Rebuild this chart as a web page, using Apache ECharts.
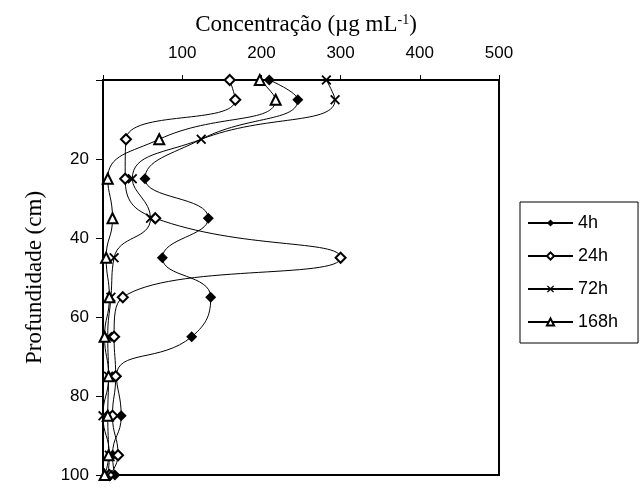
<!DOCTYPE html>
<html><head><meta charset="utf-8">
<script src="https://cdn.jsdelivr.net/npm/echarts@6/dist/echarts.min.js"></script>
<style>html,body{margin:0;padding:0;background:#fff}#c{width:642px;height:490px}</style>
</head><body><div id="c"></div>
<script>
const depths = [0, 5, 15, 25, 35, 45, 55, 65, 75, 85, 95, 100];
const seriesNames = ['4h', '24h', '72h', '168h'];
const v4h   = [210, 246, 124, 53, 133, 75, 136, 112, 17, 23, 12, 15];
const v24h  = [160, 167, 29, 28, 66, 300, 25, 14, 16, 12, 19, 8];
const v72h  = [282, 293, 124, 37, 60, 14, 10, 6, 7, 0, 8, 6];
const v168h = [198, 218, 71, 6, 12, 4, 8, 2, 7, 6, 7, 2];
const xTicks = [100, 200, 300, 400, 500];
const yTicks = [20, 40, 60, 80, 100];

const X_PATH = 'path://M0,1.3 L1.3,0 L5,3.7 L8.7,0 L10,1.3 L6.3,5 L10,8.7 L8.7,10 L5,6.3 L1.3,10 L0,8.7 L3.7,5 Z';
const styles = [
  {symbol: 'diamond', symbolSize: 11, itemStyle: {color: '#000', borderColor: '#000', borderWidth: 0}},
  {symbol: 'diamond', symbolSize: 10, itemStyle: {color: '#fff', borderColor: '#000', borderWidth: 2}},
  {symbol: X_PATH, symbolSize: 10, itemStyle: {color: '#000', borderColor: '#000', borderWidth: 0}},
  {symbol: 'triangle', symbolSize: 10, itemStyle: {color: '#fff', borderColor: '#000', borderWidth: 2}}
];
const allVals = [v4h, v24h, v72h, v168h];

const series = seriesNames.map((n, i) => ({
  name: n, type: 'line', smooth: 0.5, clip: false,
  symbol: styles[i].symbol, symbolSize: styles[i].symbolSize,
  itemStyle: styles[i].itemStyle,
  lineStyle: {color: '#000', width: 1},
  data: allVals[i].map((v, k) => {
    const d = {value: [v, depths[k]]};
    if (i === 0 && k === 2) d.symbol = 'none';
    return d;
  }),
  z: 2 + i
}));

const chart = echarts.init(document.getElementById('c'), null, {renderer: 'canvas'});
chart.setOption({
  animation: false,
  backgroundColor: '#fff',
  title: {
    text: '{a|Concentração (µg mL}{s|-1}{a|)}',
    left: 301, top: 8, textAlign: 'center',
    textStyle: {fontWeight: 'normal', rich: {
      a: {fontFamily: 'Liberation Serif', fontSize: 23, fontWeight: 'normal', color: '#000'},
      s: {fontFamily: 'Liberation Serif', fontSize: 14, fontWeight: 'normal', color: '#000', verticalAlign: 'top', padding: [0,0,10,0]}
    }}
  },
  grid: {left: 103, right: 143, top: 80, bottom: 15, show: true, borderColor: '#000', borderWidth: 2, backgroundColor: 'transparent'},
  legend: {
    orient: 'vertical', left: 520, top: 202,
    data: seriesNames,
    itemWidth: 45, itemHeight: 9, itemGap: 15,
    padding: [12, 20, 12, 7],
    borderColor: '#000', borderWidth: 1,
    textStyle: {fontFamily: 'Liberation Sans', fontSize: 18, color: '#000'}
  },
  xAxis: {
    type: 'value', position: 'top', min: 0, max: 500, interval: 100,
    axisLine: {show: true, onZero: false, lineStyle: {color: '#000', width: 2}},
    axisTick: {show: true, length: 5, lineStyle: {color: '#000', width: 1}},
    axisLabel: {margin: 18, fontFamily: 'Liberation Sans', fontSize: 17, color: '#000',
      formatter: v => xTicks.includes(v) ? String(v) : ''},
    splitLine: {show: false}
  },
  yAxis: {
    type: 'value', inverse: true, min: 0, max: 100, interval: 20,
    name: 'Profundidade (cm)', nameLocation: 'middle', nameGap: 57, nameRotate: 90,
    nameTextStyle: {fontFamily: 'Liberation Serif', fontSize: 23, color: '#000'},
    axisLine: {show: true, onZero: false, lineStyle: {color: '#000', width: 2}},
    axisTick: {show: true, length: 7, lineStyle: {color: '#000', width: 1}},
    axisLabel: {margin: 14, fontFamily: 'Liberation Sans', fontSize: 17, color: '#000',
      formatter: v => yTicks.includes(v) ? String(v) : ''},
    splitLine: {show: false}
  },
  series: series
});
</script></body></html>
